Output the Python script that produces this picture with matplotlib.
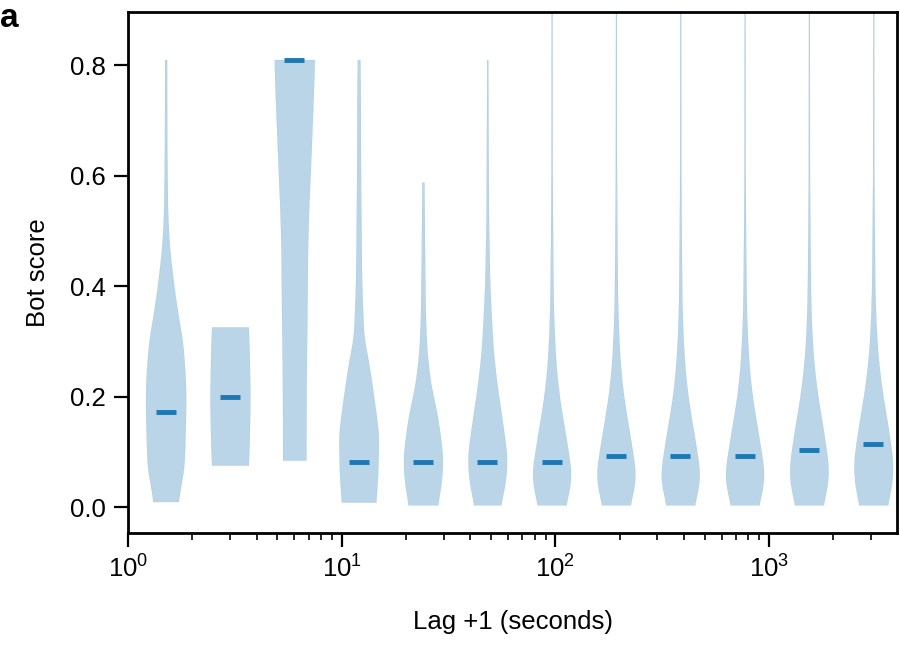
import numpy as np
import matplotlib
matplotlib.use('Agg')
from matplotlib import pyplot as plt

plt.rcParams['font.family'] = ['Liberation Sans', 'DejaVu Sans']
plt.rcParams['mathtext.default'] = 'regular'

# Centre of each lag bin (seconds + 1) and median bot score
positions = [1.5, 3, 6, 12, 24, 48, 96, 192, 384, 768, 1536, 3072]
medians = [0.172, 0.199, 0.809, 0.081, 0.081, 0.081, 0.081, 0.092, 0.092, 0.092, 0.103, 0.114]

# Violin outlines: score levels and relative width (1 = widest)
profile_y = [
    [0.01, 0.07, 0.17, 0.224, 0.30, 0.344, 0.405, 0.465, 0.525, 0.646, 0.81],
    [0.076, 0.10, 0.20, 0.30, 0.326],
    [0.085, 0.224, 0.344, 0.465, 0.525, 0.646, 0.767, 0.81],
    [0.009, 0.05, 0.134, 0.224, 0.284, 0.30, 0.405, 0.586, 0.767, 0.81],
    [0.004, 0.04, 0.09, 0.163, 0.224, 0.284, 0.344, 0.465, 0.588],
    [0.004, 0.04, 0.09, 0.163, 0.224, 0.284, 0.344, 0.405, 0.525, 0.767, 0.81],
    [0.004, 0.03, 0.06, 0.134, 0.194, 0.254, 0.314, 0.374, 0.495, 0.60, 1.0],
    [0.004, 0.03, 0.06, 0.134, 0.194, 0.254, 0.314, 0.374, 0.495, 0.60, 1.0],
    [0.004, 0.03, 0.06, 0.134, 0.194, 0.254, 0.314, 0.374, 0.495, 0.60, 1.0],
    [0.004, 0.03, 0.06, 0.134, 0.194, 0.254, 0.314, 0.374, 0.495, 0.60, 1.0],
    [0.004, 0.03, 0.07, 0.144, 0.204, 0.264, 0.324, 0.384, 0.505, 0.60, 1.0],
    [0.004, 0.03, 0.08, 0.154, 0.214, 0.274, 0.334, 0.394, 0.515, 0.60, 1.0],
]
profile_w = [
    [0.6, 0.92, 1.0, 1.0, 0.85, 0.63, 0.39, 0.2, 0.1, 0.06, 0.05],
    [0.9, 0.95, 1.0, 0.95, 0.9],
    [0.58, 0.59, 0.63, 0.66, 0.7, 0.84, 0.97, 1.0],
    [0.84, 0.95, 1.0, 0.66, 0.4, 0.26, 0.15, 0.1, 0.08, 0.06],
    [0.7, 0.92, 1.0, 0.74, 0.37, 0.19, 0.12, 0.08, 0.05],
    [0.63, 0.9, 1.0, 0.72, 0.47, 0.29, 0.2, 0.12, 0.06, 0.03, 0.03],
    [0.66, 0.9, 1.0, 0.68, 0.4, 0.22, 0.13, 0.08, 0.05, 0.03, 0.02],
    [0.66, 0.9, 1.0, 0.68, 0.4, 0.22, 0.13, 0.08, 0.05, 0.03, 0.02],
    [0.66, 0.9, 1.0, 0.68, 0.4, 0.22, 0.13, 0.08, 0.05, 0.03, 0.02],
    [0.66, 0.9, 1.0, 0.68, 0.4, 0.22, 0.13, 0.08, 0.05, 0.03, 0.02],
    [0.66, 0.9, 1.0, 0.7, 0.42, 0.23, 0.13, 0.08, 0.05, 0.03, 0.02],
    [0.66, 0.9, 1.0, 0.7, 0.42, 0.23, 0.13, 0.08, 0.05, 0.03, 0.02],
]

half_width = 0.094  # decades


def smooth_outline(py, pw, n=500, sigma=0.018):
    # linear outline through the read points, softened a little
    yy = np.linspace(py[0], py[-1], n)
    ww = np.interp(yy, py, pw)
    step = yy[1] - yy[0]
    k = int(3 * sigma / step)
    if k > 0:
        kern = np.exp(-0.5 * (np.arange(-k, k + 1) * step / sigma) ** 2)
        kern /= kern.sum()
        padded = np.concatenate([np.full(k, ww[0]), ww, np.full(k, ww[-1])])
        ww = np.convolve(padded, kern, mode='valid')
    return yy, ww


fig = plt.figure(figsize=(9, 6.57), dpi=100)
ax = fig.add_axes([0.1422, 0.1887, 0.8545, 0.793])
ax.set_xscale('log')

for pos, med, py, pw in zip(positions, medians, profile_y, profile_w):
    yy, ww = smooth_outline(py, pw)
    ww = ww * half_width
    ax.fill_betweenx(yy, pos * 10 ** (-ww), pos * 10 ** ww,
                     facecolor='#1f77b4', alpha=0.3, edgecolor='#1f77b4', linewidth=0.2)
    ax.hlines(med, pos * 10 ** (-half_width / 2), pos * 10 ** (half_width / 2),
              color='#1f77b4', linewidth=3.5)

ax.set_xlim(1, 3970)
ax.set_ylim(-0.047, 0.896)
ax.set_yticks([0.0, 0.2, 0.4, 0.6, 0.8])
ax.set_yticklabels(['0.0', '0.2', '0.4', '0.6', '0.8'])

for s in ax.spines.values():
    s.set_linewidth(2)
ax.tick_params(which='major', length=10, width=1.6, labelsize=18.5, pad=6)
ax.tick_params(which='minor', length=5, width=1.2)

ax.set_xlabel('Lag +1 (seconds)', fontsize=18.5, labelpad=20)
ax.set_ylabel('Bot score', fontsize=18.5, labelpad=14)
fig.text(0.0, 0.995, 'a', fontsize=24, fontweight='bold', va='top', ha='left')

fig.savefig('out.png', dpi=100)
